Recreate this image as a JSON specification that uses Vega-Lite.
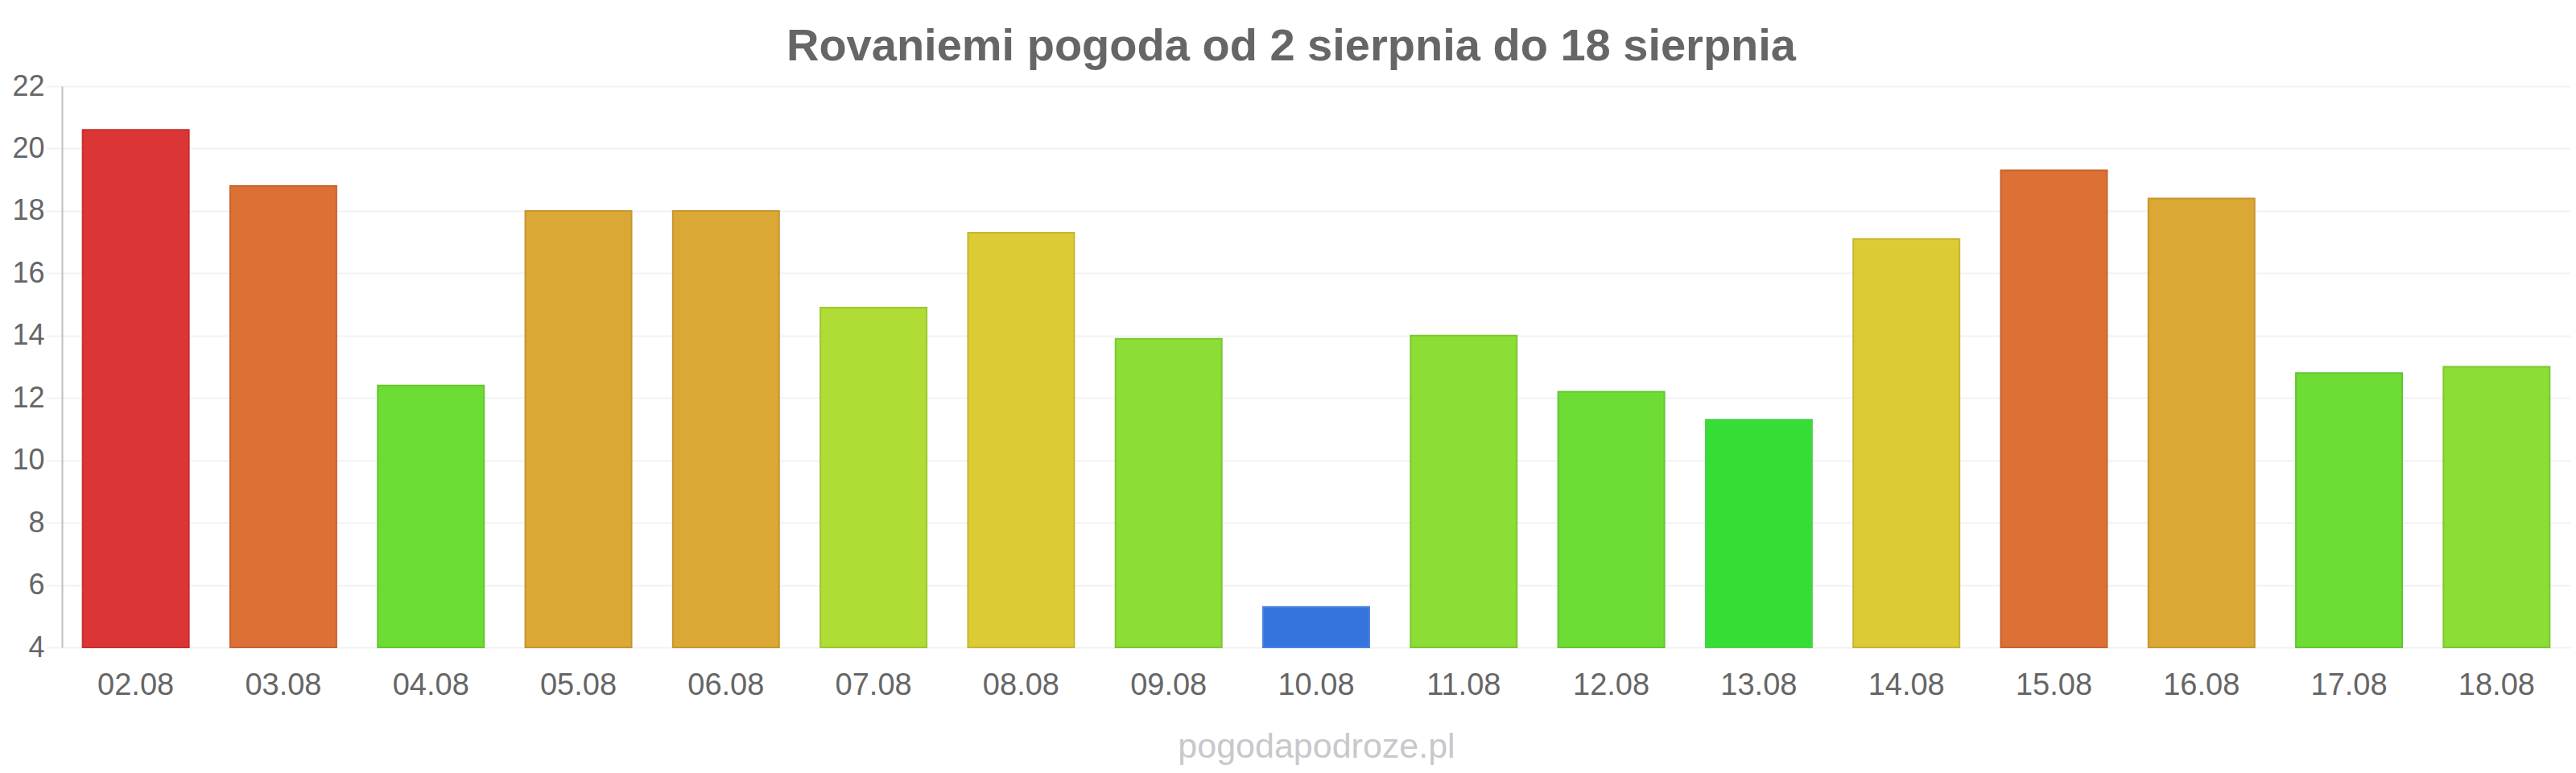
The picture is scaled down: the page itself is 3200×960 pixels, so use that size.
{
  "$schema": "https://vega.github.io/schema/vega-lite/v6.json",
  "width": 3116,
  "height": 697,
  "autosize": {"type": "none"},
  "padding": {"left": 77, "top": 107, "right": 7, "bottom": 156},
  "background": "white",
  "title": {
    "text": "Rovaniemi pogoda od 2 sierpnia do 18 sierpnia",
    "font": "Liberation Sans",
    "fontSize": 56,
    "fontWeight": "bold",
    "color": "#666666",
    "anchor": "middle",
    "frame": "bounds",
    "offset": 2
  },
  "data": {
    "values": [
      {"date": "02.08", "temp": 20.6},
      {"date": "03.08", "temp": 18.8},
      {"date": "04.08", "temp": 12.4},
      {"date": "05.08", "temp": 18.0},
      {"date": "06.08", "temp": 18.0},
      {"date": "07.08", "temp": 14.9},
      {"date": "08.08", "temp": 17.3},
      {"date": "09.08", "temp": 13.9},
      {"date": "10.08", "temp": 5.3},
      {"date": "11.08", "temp": 14.0},
      {"date": "12.08", "temp": 12.2},
      {"date": "13.08", "temp": 11.3},
      {"date": "14.08", "temp": 17.1},
      {"date": "15.08", "temp": 19.3},
      {"date": "16.08", "temp": 18.4},
      {"date": "17.08", "temp": 12.8},
      {"date": "18.08", "temp": 13.0}
    ]
  },
  "mark": {"type": "bar", "strokeWidth": 2},
  "encoding": {
    "x": {
      "field": "date",
      "type": "ordinal",
      "sort": null,
      "scale": {"paddingInner": 0.28, "paddingOuter": 0.14},
      "axis": {
        "title": "pogodapodroze.pl",
        "labelAngle": 0,
        "domain": false,
        "ticks": false,
        "grid": false,
        "labelFont": "Liberation Sans",
        "labelFontSize": 38,
        "labelColor": "#666666",
        "labelPadding": 28,
        "titleFont": "Liberation Sans",
        "titleFontSize": 43,
        "titleFontWeight": "normal",
        "titleColor": "#c8c8cc",
        "titlePadding": 36
      }
    },
    "y": {
      "field": "temp",
      "type": "quantitative",
      "scale": {"domain": [4, 22], "nice": false, "zero": false},
      "axis": {
        "title": null,
        "values": [4, 6, 8, 10, 12, 14, 16, 18, 20, 22],
        "domainColor": "#c0c0c0",
        "domainWidth": 2,
        "tickColor": "#f2f2f2",
        "tickSize": 20,
        "tickWidth": 2,
        "gridColor": "#f2f2f2",
        "gridWidth": 2,
        "labelFont": "Liberation Sans",
        "labelFontSize": 36,
        "labelColor": "#666666",
        "labelPadding": 2
      }
    },
    "y2": {"datum": 4},
    "color": {
      "field": "temp",
      "type": "quantitative",
      "scale": {
        "type": "threshold",
        "domain": [6, 12, 13, 14.5, 16, 17.5, 18.5, 20],
        "range": ["#3474dc", "#35dd35", "#6ddd36", "#8cdd35", "#afdd35", "#dccb35", "#dca835", "#dd7035", "#dc3535"]
      },
      "legend": null
    },
    "stroke": {
      "field": "temp",
      "type": "quantitative",
      "scale": {
        "type": "threshold",
        "domain": [6, 12, 13, 14.5, 16, 17.5, 18.5, 20],
        "range": ["#4a82dc", "#4cd04c", "#62c630", "#7ec630", "#9dc630", "#c6b630", "#c6972f", "#c6652f", "#c6302f"]
      },
      "legend": null
    }
  },
  "config": {
    "view": {"stroke": null}
  }
}
